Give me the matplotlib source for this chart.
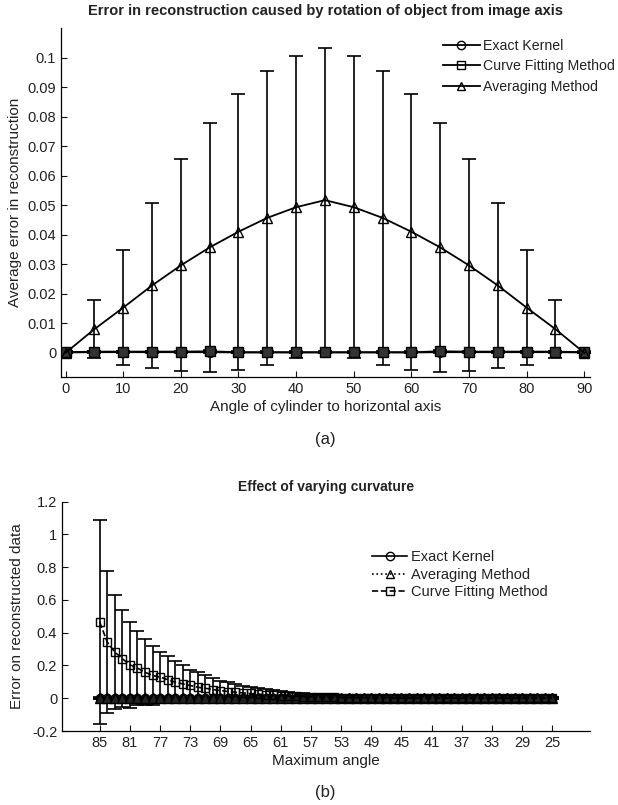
import numpy as np
import matplotlib.pyplot as plt
from matplotlib.lines import Line2D

plt.rcParams['font.family'] = ['Liberation Sans', 'DejaVu Sans']
plt.rcParams['font.size'] = 10

# ---- (a) rotation of object ----
angles_a = [0, 5, 10, 15, 20, 25, 30, 35, 40, 45, 50, 55, 60, 65, 70, 75, 80, 85, 90]
avg_mean_a = [0, 0.0080, 0.0153, 0.0228, 0.0296, 0.0357, 0.0410, 0.0457, 0.0493, 0.0517,
              0.0493, 0.0457, 0.0410, 0.0357, 0.0296, 0.0228, 0.0153, 0.0080, 0]
avg_std_a = [0, 0.0098, 0.0195, 0.0280, 0.0359, 0.0421, 0.0467, 0.0498, 0.0512, 0.0515,
             0.0512, 0.0498, 0.0467, 0.0421, 0.0359, 0.0280, 0.0195, 0.0098, 0]
exact_mean_a = [0.0001, 0.0002, 0.0002, 0.0002, 0.0002, 0.0002, 0.0001, 0.0001, 0.0001, 0.0001,
                0.0001, 0.0001, 0.0001, 0.0002, 0.0002, 0.0002, 0.0002, 0.0002, 0.0001]
curve_mean_a = [0.0002, 0.0004, 0.0004, 0.0004, 0.0004, 0.0005, 0.0002, 0.0002, 0.0002, 0.0002,
                0.0002, 0.0002, 0.0002, 0.0005, 0.0004, 0.0004, 0.0004, 0.0004, 0.0002]

# ---- (b) varying curvature ----
angles_b = list(range(85, 24, -1))
curve_mean_b = [0.465, 0.343, 0.282, 0.241, 0.204, 0.184, 0.159, 0.139, 0.129, 0.114,
                0.098, 0.088, 0.078, 0.067, 0.061, 0.053, 0.047, 0.041, 0.037, 0.033,
                0.029, 0.025, 0.022, 0.019, 0.016, 0.014, 0.012, 0.010, 0.008, 0.007,
                0.006, 0.005, 0.004, 0.004, 0.003, 0.003, 0.002, 0.002, 0.002, 0.001,
                0.001, 0.001, 0.001, 0.001, 0.001, 0.001, 0.001, 0.001, 0.001, 0.001,
                0.001, 0.001, 0.001, 0.001, 0.001, 0.001, 0.001, 0.001, 0.001, 0.001, 0.001]
curve_std_b = [0.625, 0.435, 0.347, 0.296, 0.261, 0.226, 0.200, 0.183, 0.153, 0.141,
               0.129, 0.112, 0.095, 0.092, 0.078, 0.071, 0.061, 0.057, 0.047, 0.040,
               0.038, 0.035, 0.032, 0.029, 0.027, 0.024, 0.022, 0.020, 0.019, 0.017,
               0.016, 0.015, 0.014, 0.013, 0.012, 0.011, 0.010, 0.010, 0.009, 0.009,
               0.008, 0.008, 0.008, 0.007, 0.007, 0.007, 0.007, 0.006, 0.006, 0.006,
               0.006, 0.006, 0.006, 0.005, 0.005, 0.005, 0.005, 0.005, 0.005, 0.005, 0.005]
exact_mean_b = [0.0] * 61
avg_mean_b = [0.002] * 61
small_std_b = [0.004] * 61

xticks_a = [0, 10, 20, 30, 40, 50, 60, 70, 80, 90]
yticks_a = [0, 0.01, 0.02, 0.03, 0.04, 0.05, 0.06, 0.07, 0.08, 0.09, 0.1]
xticks_b = list(range(85, 24, -4))
yticks_b = [-0.2, 0, 0.2, 0.4, 0.6, 0.8, 1, 1.2]

W, H = 618, 805
fig = plt.figure(figsize=(W / 100, H / 100), dpi=100)
txt = '#222222'


def style(ax):
    ax.spines['top'].set_visible(False)
    ax.spines['right'].set_visible(False)
    ax.tick_params(direction='in', length=4, colors='#111111', labelcolor=txt, labelsize=10.5)
    for s in ax.spines.values():
        s.set_linewidth(0.9)


# top panel
ax1 = fig.add_axes([61 / W, 1 - 376.7 / H, 529 / W, (376.7 - 28) / H])
ek = dict(color='k', lw=1.3, capsize=5, elinewidth=1.2, capthick=1.2)
ax1.errorbar(angles_a, exact_mean_a, yerr=0.0003, marker='o', ms=7, mfc='#333333', mec='k', **ek)
ax1.errorbar(angles_a, curve_mean_a, yerr=0.0003, marker='s', ms=6.5, mfc='#333333', mec='k', **ek)
ax1.errorbar(angles_a, avg_mean_a, yerr=avg_std_a, marker='^', ms=7, mfc='none', mec='k', **ek)
ax1.set_xlim(-0.8, 91)
ax1.set_ylim(-0.0081, 0.11)
ax1.set_xticks(xticks_a)
ax1.set_yticks(yticks_a)
ax1.set_yticklabels(['0', '0.01', '0.02', '0.03', '0.04', '0.05', '0.06', '0.07', '0.08', '0.09', '0.1'])
style(ax1)
ax1.set_title('Error in reconstruction caused by rotation of object from image axis',
              fontsize=10.5, fontweight='bold', color=txt, pad=9)
ax1.set_xlabel('Angle of cylinder to horizontal axis', fontsize=11, color=txt, labelpad=3)
ax1.set_ylabel('Average error in reconstruction', fontsize=11, color=txt, labelpad=4)
hnd = [Line2D([], [], color='k', lw=1.3, marker='o', ms=6, mfc='none'),
       Line2D([], [], color='k', lw=1.3, marker='s', ms=6, mfc='none'),
       Line2D([], [], color='k', lw=1.3, marker='^', ms=6, mfc='none')]
ax1.legend(hnd, ['Exact Kernel', 'Curve Fitting Method', 'Averaging Method'],
           loc='upper left', bbox_to_anchor=(443 / W, 1 - 39 / H), bbox_transform=fig.transFigure,
           frameon=False, fontsize=10.2, borderpad=0, borderaxespad=0, handlelength=2.6,
           handletextpad=0.2, labelspacing=0.45, labelcolor=txt)
fig.text(325 / W, 1 - 439 / H, '(a)', ha='center', va='center', fontsize=12, color=txt)

# bottom panel
ax2 = fig.add_axes([62 / W, 1 - 731 / H, 528 / W, (731 - 501.7) / H])
eb = dict(color='k', lw=1.2, capsize=5, elinewidth=1.2, capthick=1.2)
ax2.errorbar(angles_b, exact_mean_b, yerr=small_std_b, marker='o', ms=6, mfc='#222222', mec='k', ls='-', **eb)
ax2.errorbar(angles_b, avg_mean_b, yerr=small_std_b, marker='^', ms=7, mfc='#222222', mec='k', ls=':', **eb)
ax2.errorbar(angles_b, curve_mean_b, yerr=curve_std_b, marker='s', ms=6, mfc='none', mec='k', ls='--', **eb)
ax2.set_xlim(90, 20)
ax2.set_ylim(-0.2, 1.2)
ax2.set_xticks(xticks_b)
ax2.set_yticks(yticks_b)
ax2.set_yticklabels(['-0.2', '0', '0.2', '0.4', '0.6', '0.8', '1', '1.2'])
style(ax2)
ax2.set_title('Effect of varying curvature', fontsize=10, fontweight='bold', color=txt, pad=8)
ax2.set_xlabel('Maximum angle', fontsize=11, color=txt, labelpad=3)
ax2.set_ylabel('Error on reconstructed data', fontsize=11, color=txt, labelpad=6)
hnd2 = [Line2D([], [], color='k', lw=1.2, ls='-', marker='o', ms=6, mfc='none'),
        Line2D([], [], color='k', lw=1.2, ls=':', marker='^', ms=6, mfc='none'),
        Line2D([], [], color='k', lw=1.2, ls='--', marker='s', ms=6, mfc='none')]
ax2.legend(hnd2, ['Exact Kernel', 'Averaging Method', 'Curve Fitting Method'],
           loc='upper left', bbox_to_anchor=(372 / W, 1 - 550 / H), bbox_transform=fig.transFigure,
           frameon=False, fontsize=10.5, borderpad=0, borderaxespad=0, handlelength=2.4,
           handletextpad=0.3, labelspacing=0.25, labelcolor=txt)
fig.text(325 / W, 1 - 792 / H, '(b)', ha='center', va='center', fontsize=12, color=txt)

fig.savefig('out.png', dpi=100)
